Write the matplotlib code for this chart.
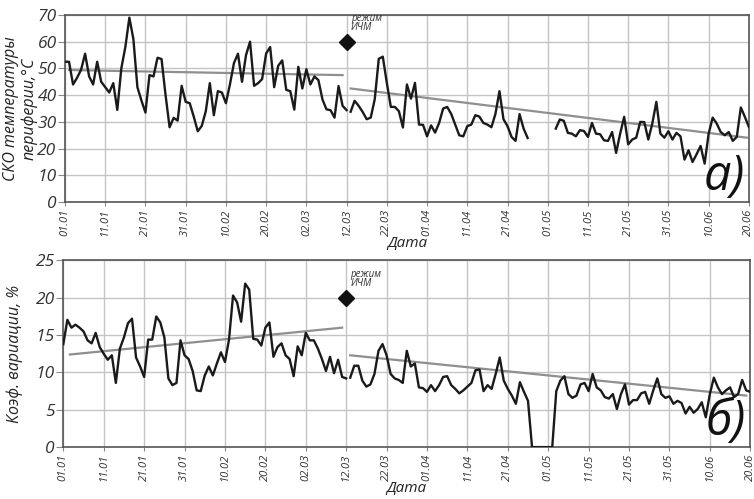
import numpy as np
import matplotlib
matplotlib.use('Agg')
from matplotlib import pyplot as plt

plt.rcParams['font.family'] = ['Open Sans', 'DejaVu Sans']

# x axis: day index from 01.01, labels every 10 days
tick_days = list(range(0, 171, 10))
tick_labels = ['01.01', '11.01', '21.01', '31.01', '10.02', '20.02', '02.03', '12.03', '22.03',
               '01.04', '11.04', '21.04', '01.05', '11.05', '21.05', '31.05', '10.06', '20.06']

# a) СКО температуры периферии, days 0..70 and 71..170
sko_before = [52.5, 52.5, 44, 46.5, 49.5, 55.5, 47, 44, 52.5, 45,
              43, 41, 44.5, 34.5, 50, 58, 69, 61, 43, 38,
              33.5, 47.5, 47, 54, 53.5, 40, 28, 31.5, 30.5, 43.5,
              37.5, 37, 32, 26.5, 28.5, 34, 44.5, 32.5, 41.5, 41,
              37, 44, 52, 55.5, 45, 55, 60, 43.5, 44.5, 46,
              55.6, 58, 43, 51, 53, 42, 41.5, 34.6, 50.6, 42.5,
              49.7, 44, 47, 45.6, 38.4, 34.7, 34.4, 31.6, 43.4, 36,
              34.4]
sko_after = [33.8, 37.9, 36, 33.7, 31, 31.6, 38.5, 53.6, 54.4, 44.6,
             35.6, 35.6, 34, 27.9, 44, 38.7, 44.6, 29, 28.9, 24.6,
             28.7, 26, 29.6, 35, 35.6, 33, 29, 25, 24.6, 28.4,
             29, 32.5, 32, 29.6, 29, 28, 33, 41.5, 31, 28.4,
             24.4, 22.9, 32.9, 27.5, 24, None, None, None, None, None,
             None, 27.5, 30.9, 30.4, 25.9, 25.6, 24.6, 26.9, 26.6, 24.4,
             29.6, 25.6, 25.4, 23.1, 22.9, 26.2, 18.4, 25.6, 31.9, 21.6,
             23.4, 24.1, 30, 29.9, 23.4, 29.4, 37.5, 25.6, 24.1, 26.5,
             23.4, 25.9, 24.6, 15.9, 19.4, 15, 17.9, 21, 14.4, 25.6,
             31.6, 29.4, 26.2, 25, 26.2, 22.9, 24.4, 35.4, 31.9, 28.1]

# б) коэффициент вариации
kv_before = [13.8, 17.05, 16, 16.4, 16, 15.5, 14.3, 13.9, 15.3, 13.4,
             12.5, 11.7, 12.3, 8.6, 13.2, 14.7, 16.6, 17.2, 12, 10.8,
             9.4, 14.4, 14.4, 17.5, 16.7, 14.7, 9.2, 8.3, 8.6, 14.3,
             12.3, 11.8, 10.2, 7.6, 7.5, 9.6, 10.8, 9.6, 11.2, 12.7,
             11.4, 14.4, 20.3, 19.4, 16.8, 21.9, 21.1, 14.5, 14.4, 13.6,
             16, 16.7, 12.1, 13.4, 13.9, 12.3, 11.8, 9.5, 13.5, 12.3,
             15.3, 14.3, 14.3, 13.2, 11.8, 10.2, 12.1, 9.9, 11.7, 9.4,
             9.2]
kv_after = [9.3, 10.9, 10.9, 8.9, 8.1, 8.4, 9.8, 12.9, 13.8, 12.3,
            9.8, 9.2, 9, 8.6, 12.9, 10.8, 11.2, 8, 7.9, 7.4,
            8.3, 7.5, 8.3, 9.4, 9.5, 8.3, 7.8, 7.2, 7.6, 8.1,
            8.6, 10.3, 10.4, 7.5, 8.3, 7.8, 9.8, 12, 8.9, 7.8,
            6.9, 5.8, 8.7, 7.4, 6.2, 0, 0, 0, 0, 0,
            0, 7.5, 8.9, 9.5, 7.1, 6.6, 6.9, 8.4, 8.6, 7.5,
            9.8, 8, 7.6, 6.7, 6.5, 7.1, 5.1, 7.1, 8.4, 5.7,
            6.3, 6.3, 7.2, 7.4, 5.8, 7.6, 9.2, 7.1, 6.6, 6.8,
            5.8, 6.2, 5.9, 4.5, 5.4, 4.6, 5.1, 6, 4, 7.1,
            9.3, 8, 7.1, 7.6, 8, 6.7, 7.1, 9, 7.6, 7.4]

# linear trend ends (day, value)
sko_trend_before = ([1, 69], [49.4, 47.5])
sko_trend_after = ([71, 169.5], [42.5, 24.1])
kv_trend_before = ([1.6, 69], [12.4, 16.0])
kv_trend_after = ([71, 169], [12.3, 6.9])

mode_day = 70
mode_sko = 60
mode_kv = 20


def draw(ax, before, after, trend_b, trend_a, mode_y, ymax, ystep, ylabel, label_x, letter):
    days_b = np.arange(0, len(before))
    days_a = np.arange(len(before), len(before) + len(after))
    b = np.array(before, dtype=float)
    a = np.array([np.nan if v is None else v for v in after], dtype=float)
    ax.plot(trend_b[0], trend_b[1], color='#8f8f8f', lw=1.6, zorder=2)
    ax.plot(trend_a[0], trend_a[1], color='#8f8f8f', lw=1.6, zorder=2)
    ax.plot(days_b, b, color='#1a1a1a', lw=1.7, zorder=3)
    ax.plot(days_a, a, color='#1a1a1a', lw=1.7, zorder=3)
    ax.plot([mode_day], [mode_y], marker='D', ms=8, color='#111111', zorder=4, clip_on=False)
    ax.annotate('режим\nИЧМ', (mode_day, mode_y), xytext=(3, 6), textcoords='offset points',
                fontsize=7, style='italic', color='#333333', va='bottom', ha='left',
                linespacing=0.8, annotation_clip=False)
    ax.set_xlim(0, 170)
    ax.set_ylim(0, ymax)
    ax.set_xticks(tick_days)
    ax.set_xticklabels(tick_labels, rotation=90, fontsize=8, style='italic', color='#333333')
    yt = np.arange(0, ymax + 1, ystep)
    ax.set_yticks(yt)
    ax.set_yticklabels([str(v) for v in yt], fontsize=12.5, style='italic', color='#333333')
    ax.tick_params(axis='y', length=5, pad=1, color='#888888')
    ax.tick_params(axis='x', length=3, pad=2, color='#888888')
    ax.grid(True, color='#c4c4c4', lw=1)
    ax.set_axisbelow(True)
    for sp in ax.spines.values():
        sp.set_color('#555555')
        sp.set_linewidth(1.2)
    ax.set_ylabel(ylabel, fontsize=11.5, style='italic', color='#222222', linespacing=1.2)
    ax.yaxis.set_label_coords(label_x, 0.5)
    ax.set_xlabel('Дата', fontsize=11, style='italic', color='#222222', labelpad=0)
    ax.text(0.994, 0.0, letter, transform=ax.transAxes, fontsize=35, style='italic',
            ha='right', va='bottom', color='#111111', zorder=5)


fig = plt.figure(figsize=(7.54, 4.99), dpi=100)
ax1 = fig.add_axes([0.0862, 0.595, 0.907, 0.375])
ax2 = fig.add_axes([0.084, 0.104, 0.911, 0.374])

draw(ax1, sko_before, sko_after, sko_trend_before, sko_trend_after, mode_sko, 70, 10,
     'СКО температуры\nпериферии,°С', -0.04, 'а)')
draw(ax2, kv_before, kv_after, kv_trend_before, kv_trend_after, mode_kv, 25, 5,
     'Коэф. вариации, %', -0.058, 'б)')

fig.savefig('out.png', dpi=100)
